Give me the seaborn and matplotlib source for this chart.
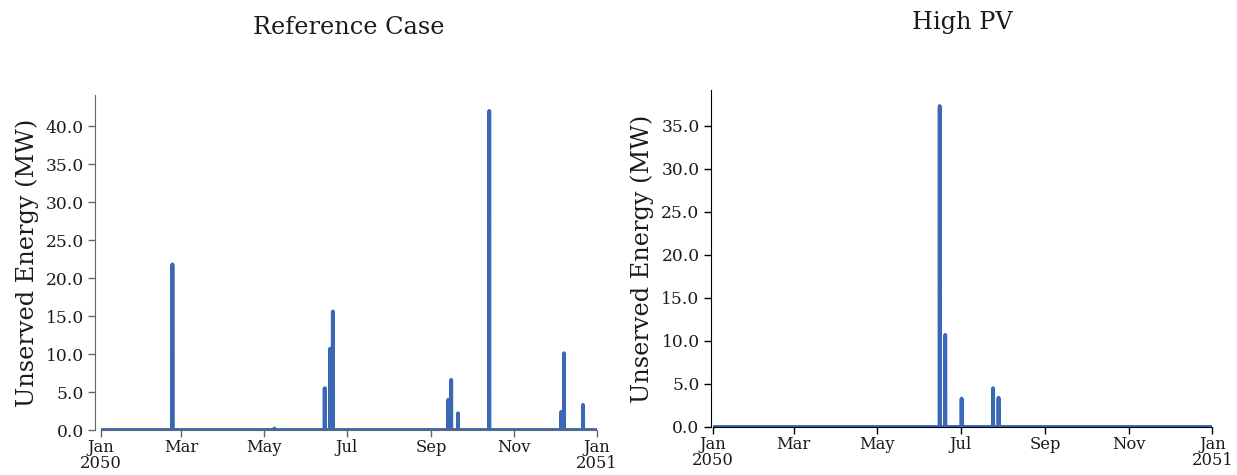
import numpy as np
import pandas as pd
import matplotlib
matplotlib.use("Agg")
import matplotlib.pyplot as plt
import seaborn as sns
from matplotlib.ticker import MultipleLocator, FormatStrFormatter

# hourly time axis for 2050
dates = pd.date_range("2050-01-01", "2051-01-01", freq="h")

# unserved energy events (timestamp, MW)
ref_event_dates = ["2050-02-22 18:00", "2050-05-08 18:00", "2050-06-14 18:00",
                   "2050-06-18 18:00", "2050-06-20 18:00", "2050-09-13 18:00",
                   "2050-09-15 18:00", "2050-09-20 18:00", "2050-10-13 18:00",
                   "2050-12-05 18:00", "2050-12-07 18:00", "2050-12-21 18:00"]
ref_event_mw = [21.8, 0.2, 5.5, 10.7, 15.6, 4.0, 6.6, 2.2, 42.0, 2.4, 10.1, 3.3]

pv_event_dates = ["2050-06-15 18:00", "2050-06-19 18:00", "2050-07-01 18:00",
                  "2050-07-24 18:00", "2050-07-28 18:00"]
pv_event_mw = [37.3, 10.7, 3.3, 4.5, 3.4]

tick_dates = ["2050-01-01", "2050-03-01", "2050-05-01", "2050-07-01",
              "2050-09-01", "2050-11-01", "2051-01-01"]
tick_labels = ["Jan\n2050", "Mar", "May", "Jul", "Sep", "Nov", "Jan\n2051"]

titles = ["Reference Case", "High PV"]
ylabel = "Unserved Energy (MW)"
line_color = "#3a68b4"


def make_series(event_dates, event_mw):
    s = pd.Series(0.0, index=dates)
    s.loc[pd.to_datetime(event_dates)] = event_mw
    return s


sns.set_style("ticks")
plt.rcParams["font.family"] = ["DejaVu Serif"]
plt.rcParams["text.color"] = "0.1"
plt.rcParams["axes.labelcolor"] = "0.1"
plt.rcParams["xtick.labelcolor"] = "0.1"
plt.rcParams["ytick.labelcolor"] = "0.1"

fig = plt.figure(figsize=(12.37, 4.75), dpi=100)
ax1 = fig.add_axes([0.0814, 0.0947, 0.4012, 0.7053])
ax2 = fig.add_axes([0.5764, 0.1011, 0.4036, 0.7094])

panels = [
    (ax1, make_series(ref_event_dates, ref_event_mw), 4.0, "0.4"),
    (ax2, make_series(pv_event_dates, pv_event_mw), 1.7, "black"),
]

for (ax, s, off, spcol), title in zip(panels, titles):
    sns.lineplot(x=s.index, y=s.values, ax=ax, color=line_color, linewidth=2.8)
    ax.set_xlim(dates[0], dates[-1])
    ax.set_ylim(bottom=0, top=s.max() * 1.05)
    ax.yaxis.set_major_locator(MultipleLocator(5))
    ax.yaxis.set_major_formatter(FormatStrFormatter("%.1f"))
    ax.set_xticks(pd.to_datetime(tick_dates))
    ax.set_xticklabels(tick_labels)
    sns.despine(ax=ax)
    ax.spines["left"].set_position(("outward", off))
    ax.spines["left"].set_color(spcol)
    ax.spines["bottom"].set_color(spcol)
    ax.tick_params(axis="y", labelsize=12.3, length=5, width=1, pad=3, color=spcol)
    ax.tick_params(axis="x", labelsize=11.8, length=5, width=1, pad=1.5, color=spcol)
    for lab in ax.get_xticklabels():
        lab.set_linespacing(0.95)
    ax.set_ylabel(ylabel, fontsize=17.3, labelpad=5)
    ax.set_xlabel("")
    ax.set_title(title, fontsize=17.3, pad=44)

fig.savefig("out.png", dpi=100)
